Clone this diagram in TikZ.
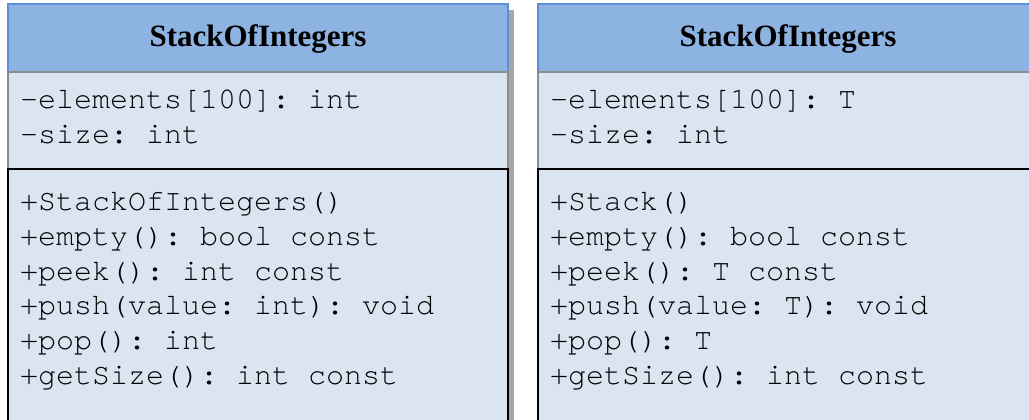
\documentclass[tikz,border=0pt]{standalone}
\usepackage{fontspec}
\setmainfont{Liberation Serif}
\setmonofont{TeX Gyre Cursor}
\definecolor{hdr}{HTML}{8DB3E2}
\definecolor{hdrline}{HTML}{5B8ED6}
\definecolor{bodyc}{HTML}{DBE5F1}
\definecolor{shadowc}{HTML}{A6A6A6}
\definecolor{sepc}{HTML}{8C8C8C}
\begin{document}
\begin{tikzpicture}[x=1pt,y=-1pt,
  titletext/.style={font=\fontsize{31}{31}\selectfont\bfseries, anchor=center, inner sep=0pt},
  mono/.style={font=\fontsize{30}{30}\selectfont\ttfamily, anchor=base west, inner sep=0pt},
  hdrbox/.style={fill=hdr, draw=hdrline, line width=1.5pt},
  attrbox/.style={fill=bodyc, draw=sepc, line width=1.5pt},
  methbox/.style={fill=bodyc, draw=black, line width=2pt}]
\useasboundingbox (0,0) rectangle (1029,420);
\clip (0,0) rectangle (1029,420);
% left class
\fill[shadowc] (14,10) rectangle (514,440);
\filldraw[hdrbox] (8,4) rectangle (508,72);
\filldraw[attrbox] (8,72) rectangle (508,169);
\filldraw[methbox] (8,169) rectangle (508,440);
\node[titletext] (lt) at (258,39) {StackOfIntegers};
\node[mono] (la1) at (20,109) {-elements[100]: int};
\node[mono] (la2) at (20,143) {-size: int};
\node[mono] (lm1) at (20,210) {+StackOfIntegers()};
\node[mono] (lm2) at (20,245) {+empty(): bool const};
\node[mono] (lm3) at (20,280) {+peek(): int const};
\node[mono] (lm4) at (20,314) {+push(value: int): void};
\node[mono] (lm5) at (20,349) {+pop(): int};
\node[mono] (lm6) at (20,384) {+getSize(): int const};
% right class
\filldraw[hdrbox] (538,4) rectangle (1038,72);
\filldraw[attrbox] (538,72) rectangle (1038,169);
\filldraw[methbox] (538,169) rectangle (1038,440);
\node[titletext] (rt) at (788,39) {StackOfIntegers};
\node[mono] (ra1) at (550,109) {-elements[100]: T};
\node[mono] (ra2) at (550,143) {-size: int};
\node[mono] (rm1) at (550,210) {+Stack()};
\node[mono] (rm2) at (550,245) {+empty(): bool const};
\node[mono] (rm3) at (550,280) {+peek(): T const};
\node[mono] (rm4) at (550,314) {+push(value: T): void};
\node[mono] (rm5) at (550,349) {+pop(): T};
\node[mono] (rm6) at (550,384) {+getSize(): int const};
\end{tikzpicture}
\end{document}
